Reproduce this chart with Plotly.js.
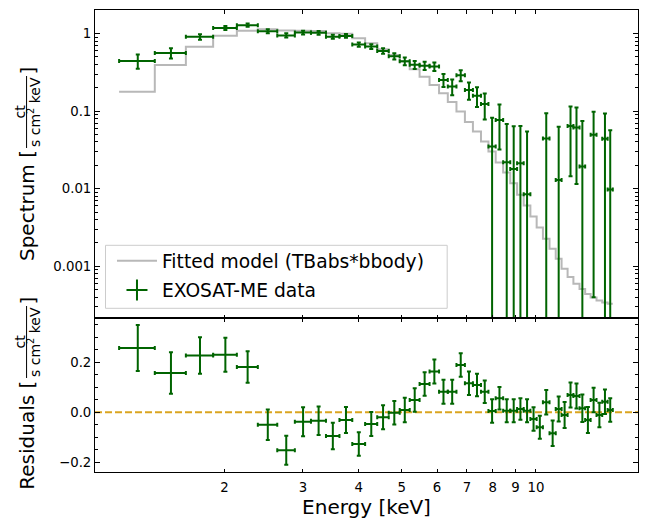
<!DOCTYPE html>
<html>
<head>
<meta charset="utf-8">
<script src="https://cdn.plot.ly/plotly-3.0.1.min.js"></script>
<style>
html,body{margin:0;padding:0;background:#ffffff;}
#chart{width:647px;height:526px;}
</style>
</head>
<body>
<div id="chart"></div>
<script>
// ---------- data ----------
// energy bin boundaries (keV)
const binEdges = [1.16,1.395,1.638,1.886,2.132,2.376,2.627,2.877,3.127,3.379,3.623,3.871,4.137,4.404,4.674,4.947,5.209,5.482,5.772,6.062,6.343,6.633,6.929,7.222,7.529,7.825,8.124,8.443,8.759,9.074,9.389,9.719,10.04,10.37,10.73,11.08,11.42,11.78,12.14,12.53,12.90,13.27,13.68,14.09,14.49,14.88];
// measured spectrum (ct / s cm^2 keV)
const flux = [0.443,0.56,0.905,1.18,1.28,1.07,0.945,1.03,1.02,0.91,0.93,0.72,0.68,0.595,0.51,0.44,0.395,0.385,0.376,0.252,0.208,0.29,0.187,0.158,0.123,0.035,0.077,0.022,0.018,0.0213,0.0085,-0.024,-0.057,0.0445,-0.082,0.013,-0.010,0.0645,0.0615,0.0193,-0.031,0.0494,-0.0105,0.0439,0.0098];
// 1-sigma errors on the spectrum
const fluxErr = [0.092,0.083,0.073,0.068,0.063,0.061,0.058,0.058,0.057,0.053,0.052,0.047,0.048,0.048,0.047,0.049,0.047,0.047,0.048,0.048,0.048,0.047,0.047,0.045,0.045,0.047,0.045,0.046,0.046,0.043,0.046,0.047,0.046,0.049,0.051,0.05,0.052,0.05,0.05,0.055,0.052,0.049,0.049,0.049,0.047];
// fitted model TBabs*bbody per bin
const model = [0.178,0.393,0.676,0.937,1.086,1.13,1.09,1.085,1.075,1.01,0.995,0.867,0.748,0.626,0.529,0.434,0.346,0.278,0.2175,0.170,0.131,0.0985,0.0722,0.0545,0.0405,0.0301,0.0217,0.0162,0.0118,0.00834,0.00608,0.00439,0.00317,0.00227,0.00168,0.00125,0.00093,0.000728,0.000597,0.00051,0.00044,0.000398,0.000364,0.000343,0.00033];
// residuals (data - model)
const residual = [0.257,0.157,0.227,0.23,0.181,-0.05,-0.152,-0.038,-0.034,-0.095,-0.031,-0.127,-0.047,-0.02,-0.002,0.009,0.049,0.113,0.163,0.082,0.082,0.189,0.116,0.109,0.082,0.005,0.056,0.006,0.006,0.013,0.006,-0.027,-0.06,0.04,-0.084,0.013,-0.011,0.069,0.065,0.016,-0.031,0.049,-0.011,0.042,0.009];

// tick labels
const xTickVals = [2,3,4,5,6,7,8,9,10];
const xTickText = ['2','3','4','5','6','7','8','9','10'];
const specTickVals = [0.001,0.01,0.1,1];
const specTickText = ['0.001','0.01','0.1','1'];
const resTickVals = [-0.2,0,0.2];
const resTickText = ['\u22120.2','0.0','0.2'];
const resMinorVals = [-0.15,-0.1,-0.05,0.05,0.1,0.15,0.25,0.3,0.35];

// ---------- derived quantities ----------
const energy = binEdges.slice(0,-1).map((lo,i)=>(lo+binEdges[i+1])/2);
const halfWidth = binEdges.slice(0,-1).map((lo,i)=>(binEdges[i+1]-lo)/2);
const modelStep = model.concat([model[model.length-1]]);
const specMinor = [];
for (let e=-4;e<=0;e++){ for (let m=2;m<=9;m++){ specMinor.push(m*Math.pow(10,e)); } }

// ---------- styling ----------
const W=647,H=526,ML=95,MR=8.5,MT=10,MB=54;
const PW=W-ML-MR, PH=H-MT-MB;
const px = v => (v-ML)/PW;          // pixel x -> paper
const py = v => (H-MB-v)/PH;        // pixel y -> paper
const FONT='DejaVu Sans, Liberation Sans, sans-serif';
const GREEN='#006400', GREY='#b8b8b8', GOLD='#daa520';

const errX = {type:'data', array:halfWidth, color:GREEN, thickness:2, width:2};
const errY = {type:'data', array:fluxErr, symmetric:true, color:GREEN, thickness:2, width:2};

const traces = [
  {x:binEdges, y:modelStep, xaxis:'x', yaxis:'y', mode:'lines', line:{shape:'hv', color:GREY, width:2},
   name:'Fitted model (TBabs*bbody)', legendgroup:'model', hoverinfo:'skip'},
  {x:[null], y:[null], xaxis:'x', yaxis:'y', mode:'markers',
   marker:{symbol:'cross-thin-open', size:15, color:GREEN, line:{color:GREEN, width:2}},
   name:'EXOSAT-ME data', legendgroup:'data'},
  {x:energy, y:flux, xaxis:'x', yaxis:'y', mode:'markers', marker:{size:1, color:GREEN, opacity:0},
   error_x:errX, error_y:errY, showlegend:false, legendgroup:'data'},
  {x:energy, y:residual, xaxis:'x2', yaxis:'y2', mode:'markers', marker:{size:1, color:GREEN, opacity:0},
   error_x:errX, error_y:errY, showlegend:false}
];

const common = {showline:true, linecolor:'black', linewidth:1, mirror:'ticks', ticks:'inside',
  tickcolor:'black', tickwidth:1, showgrid:false, zeroline:false,
  tickfont:{family:FONT, size:13.3, color:'black'}};

const labFont = {family:FONT, size:20, color:'black'};
const fracFont = {family:FONT, size:14, color:'black'};
function yLabel(word, wordCy, fracCy, closeCy){
  return [
    {xref:'paper', yref:'paper', x:px(27), y:py(wordCy), text:word+' [', textangle:-90, showarrow:false,
     font:labFont, xanchor:'center', yanchor:'middle'},
    {xref:'paper', yref:'paper', x:px(19.5), y:py(fracCy), text:'ct', textangle:-90, showarrow:false,
     font:fracFont, xanchor:'center', yanchor:'middle'},
    {xref:'paper', yref:'paper', x:px(34), y:py(fracCy), text:'s cm<sup>2</sup> keV', textangle:-90, showarrow:false,
     font:fracFont, xanchor:'center', yanchor:'middle'},
    {xref:'paper', yref:'paper', x:px(27), y:py(closeCy), text:']', textangle:-90, showarrow:false,
     font:labFont, xanchor:'center', yanchor:'middle'}
  ];
}
function fracBar(cy){
  return {type:'line', xref:'paper', yref:'paper', x0:px(26.5), x1:px(26.5), y0:py(cy-36), y1:py(cy+36),
    line:{color:'black', width:1}, layer:'above'};
}

const layout = {
  width:W, height:H, margin:{l:ML, r:MR, t:MT, b:MB, pad:0},
  paper_bgcolor:'#ffffff', plot_bgcolor:'#ffffff',
  font:{family:FONT, color:'black'},
  showlegend:true,
  legend:{x:px(112), y:py(242), xanchor:'left', yanchor:'top', bgcolor:'rgba(0,0,0,0)', borderwidth:0,
    font:{family:FONT, size:18.7, color:'black'}, itemwidth:40, tracegroupgap:2, traceorder:'grouped'},
  xaxis:Object.assign({}, common, {type:'log', range:[0.01035,1.2292], domain:[0,1], anchor:'y',
    tickmode:'array', tickvals:xTickVals, ticktext:xTickText, showticklabels:false, ticklen:3.5}),
  xaxis2:Object.assign({}, common, {type:'log', range:[0.01035,1.2292], domain:[0,1], anchor:'y2',
    tickmode:'array', tickvals:xTickVals, ticktext:xTickText, ticklen:3.5, ticklabelstandoff:3,
    title:{text:'Energy [keV]', font:{family:FONT, size:20, color:'black'}, standoff:2}}),
  yaxis:Object.assign({}, common, {type:'log', range:[-3.6654,0.3024], domain:[0.33333,1], anchor:'x',
    tickmode:'array', tickvals:specTickVals, ticktext:specTickText, ticklen:5,
    minor:{tickmode:'array', tickvals:specMinor, ticks:'inside', ticklen:2.8, tickcolor:'black', tickwidth:1}}),
  yaxis2:Object.assign({}, common, {range:[-0.2388,0.3772], domain:[0,0.33333], anchor:'x2',
    tickmode:'array', tickvals:resTickVals, ticktext:resTickText, ticklen:5,
    minor:{tickmode:'array', tickvals:resMinorVals, ticks:'inside', ticklen:2.8, tickcolor:'black', tickwidth:1}}),
  shapes:[
    {type:'line', xref:'x2 domain', x0:0, x1:1, yref:'y2', y0:0, y1:0,
     line:{color:GOLD, width:2, dash:'7px,3px'}, layer:'below'},
    {type:'rect', xref:'paper', yref:'paper', x0:px(105.5), x1:px(447.5), y0:py(308.3), y1:py(245.3),
     fillcolor:'rgba(255,255,255,0.8)', line:{color:'#cccccc', width:1}, layer:'above'},
    fracBar(112), fracBar(342)
  ],
  annotations: yLabel('Spectrum', 206, 112, 70.5).concat(yLabel('Residuals', 435.7, 342, 300.5))
};

Plotly.newPlot('chart', traces, layout, {staticPlot:true, displayModeBar:false});
</script>
</body>
</html>
